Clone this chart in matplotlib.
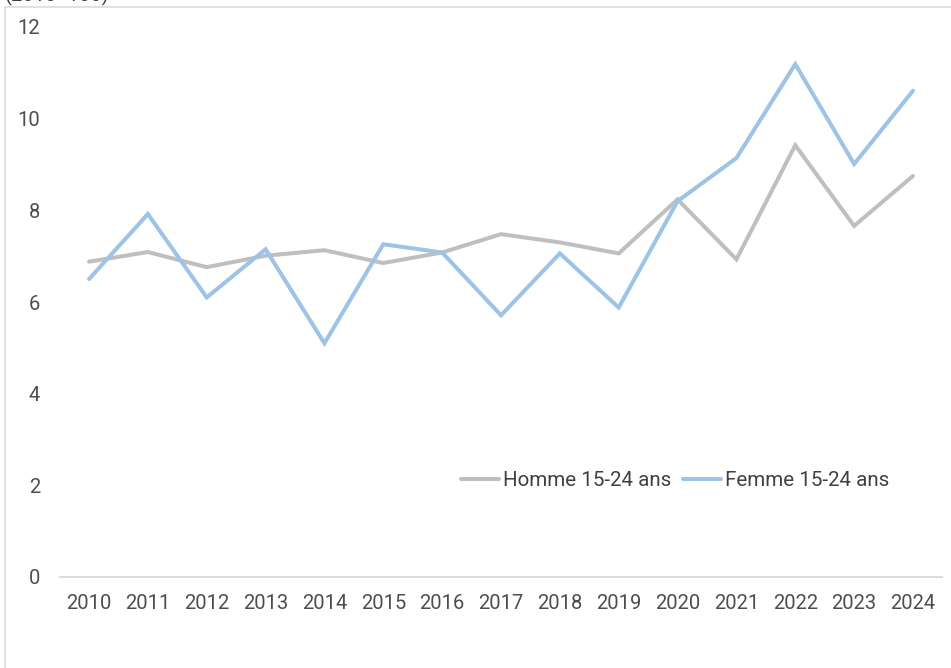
import matplotlib
matplotlib.use("Agg")
import matplotlib.pyplot as plt
from matplotlib.patches import Rectangle

years = ["2010", "2011", "2012", "2013", "2014", "2015", "2016", "2017",
         "2018", "2019", "2020", "2021", "2022", "2023", "2024"]
homme = [6.88, 7.09, 6.76, 7.01, 7.13, 6.85, 7.08, 7.48, 7.30, 7.06,
         8.24, 6.93, 9.42, 7.66, 8.75]
femme = [6.50, 7.92, 6.10, 7.15, 5.10, 7.26, 7.08, 5.71, 7.06, 5.88,
         8.20, 9.14, 11.19, 9.01, 10.61]
yticks = [0, 2, 4, 6, 8, 10, 12]
series_names = ["Homme 15-24 ans", "Femme 15-24 ans"]
unit_label = "(2010=100)"

plt.rcParams['font.family'] = ['Roboto', 'DejaVu Sans']
W, H = 951, 668
fig = plt.figure(figsize=(W / 100, H / 100), dpi=100)

# outer chart border
fig.patches.append(Rectangle((5 / W, -0.1), 1.2, 1.1 - 7 / H,
                             transform=fig.transFigure, fill=False,
                             edgecolor="#d9d9d9", linewidth=1.1, zorder=0))

ax = fig.add_axes([59.6 / W, (H - 577) / H, 882.8 / W, 550 / H])
x = list(range(len(years)))
ax.plot(x, homme, color="#BFBFBF", linewidth=2.9, label=series_names[0],
        solid_capstyle="round", solid_joinstyle="miter")
ax.plot(x, femme, color="#9DC3E6", linewidth=2.9, label=series_names[1],
        solid_capstyle="round", solid_joinstyle="miter")

ax.set_xlim(-0.5, len(years) - 0.5)
ax.set_ylim(0, 12)
ax.set_xticks(x)
ax.set_xticklabels(years)
ax.set_yticks(yticks)
ax.set_yticklabels([str(v) for v in yticks])
ax.tick_params(axis="both", length=0, labelsize=14.5, colors="#4d4d4d")
ax.tick_params(axis="y", pad=14)
ax.tick_params(axis="x", pad=12)
for s in ["top", "right", "left"]:
    ax.spines[s].set_visible(False)
ax.spines["bottom"].set_color("#d9d9d9")
ax.spines["bottom"].set_linewidth(1.3)
ax.set_facecolor("none")

leg = ax.legend(loc="center left", bbox_to_anchor=((461 - 59.6) / 882.8, (577 - 481) / 550),
                ncol=2, frameon=False, fontsize=14.8, handlelength=1.85,
                handletextpad=0.2, columnspacing=0.55, borderpad=0, borderaxespad=0)
for t in leg.get_texts():
    t.set_color("#404040")

fig.text(5 / W, 1 - 1 / H, unit_label, fontsize=14.5, color="#404040",
         ha="left", va="baseline")

fig.savefig("out.png", dpi=100)
